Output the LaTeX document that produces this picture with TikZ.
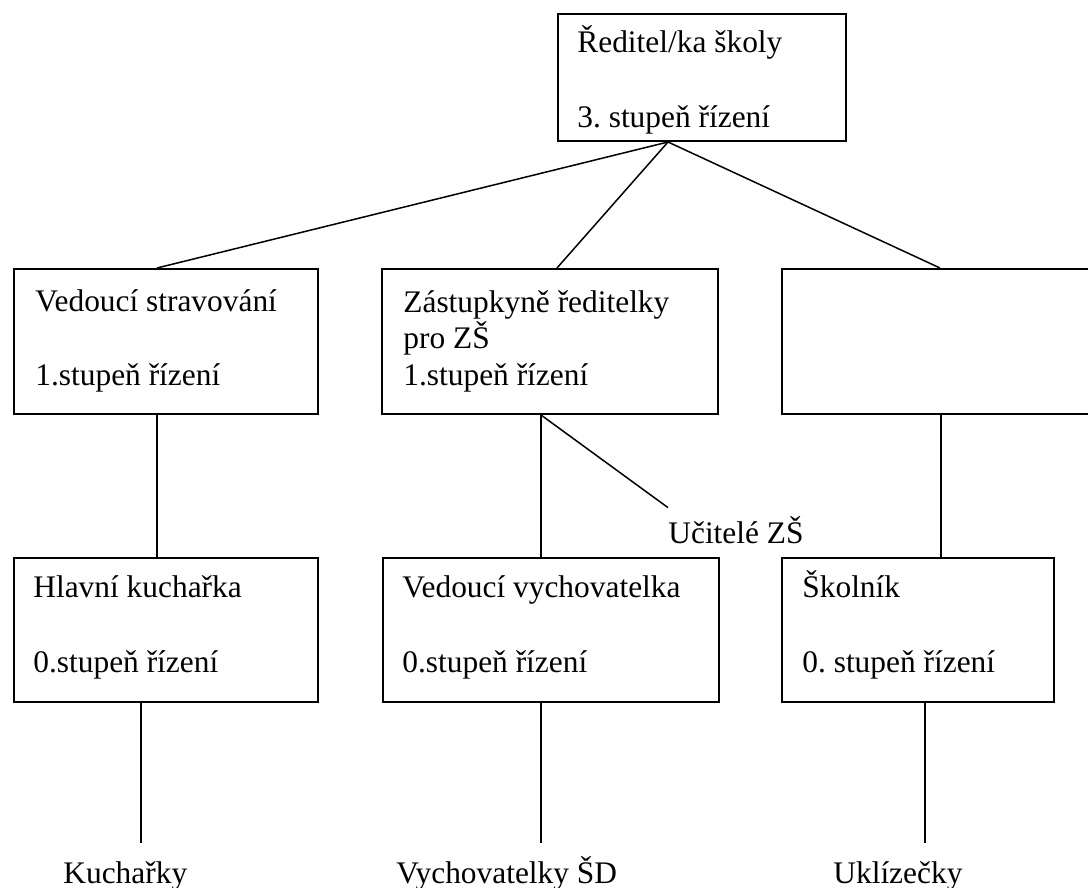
\documentclass[tikz,border=0pt]{standalone}
\usepackage{fontspec}
\setmainfont{Liberation Serif}
\frenchspacing
\tikzset{
  box/.style={draw,line width=1pt,rectangle,anchor=north west,inner sep=0pt},
  txt/.style={anchor=base west,inner sep=0pt,font=\fontsize{15.7}{19}\selectfont},
  conn/.style={line width=0.75pt}
}
\begin{document}
\begin{tikzpicture}[x=0.5pt,y=-0.5pt]
\useasboundingbox (0,0) rectangle (1088,888);
% boxes
\node (reditel) at (557,13) [box,minimum width=144pt,minimum height=63.5pt] {};
\node (vedst) at (13,268) [box,minimum width=152pt,minimum height=72.5pt] {};
\node (zast) at (381,268) [box,minimum width=168pt,minimum height=72.5pt] {};
\node (prazdny) at (781,268) [box,minimum width=156pt,minimum height=72.5pt] {};
\node (kuch) at (13,557) [box,minimum width=152pt,minimum height=72pt] {};
\node (vedvych) at (382,557) [box,minimum width=168pt,minimum height=72pt] {};
\node (skolnik) at (781,557) [box,minimum width=136pt,minimum height=72pt] {};
% texts
\node (reditelA) at (577,53) [txt] {Ředitel/ka školy};
\node (reditelB) at (577,128) [txt] {3. stupeň řízení};
\node (vedstA) at (35,311) [txt] {Vedoucí stravování};
\node (vedstB) at (35,385) [txt] {1.stupeň řízení};
\node (zastA) at (403,312) [txt] {Zástupkyně ředitelky};
\node (zastB) at (403,348) [txt] {pro ZŠ};
\node (zastC) at (403,385) [txt] {1.stupeň řízení};
\node (kuchA) at (33,597) [txt] {Hlavní kuchařka};
\node (kuchB) at (33,672) [txt] {0.stupeň řízení};
\node (vedvychA) at (402,597) [txt] {Vedoucí vychovatelka};
\node (vedvychB) at (402,672) [txt] {0.stupeň řízení};
\node (skolnikA) at (802,597) [txt] {Školník};
\node (skolnikB) at (802,672) [txt] {0. stupeň řízení};
\node (ucitele) at (668,543) [txt] {Učitelé ZŠ};
\node (kuchL) at (63,883) [txt] {Kuchařky};
\node (vychL) at (396,883) [txt] {Vychovatelky ŠD};
\node (uklL) at (833,883) [txt] {Uklízečky};
% free ends
\coordinate (kuchE) at (141,843);
\coordinate (vychE) at (541,843);
\coordinate (uklE) at (925,843);
% lines
\draw[conn] ([xshift=55.5pt]reditel.south west) -- ([xshift=72pt]vedst.north west);
\draw[conn] ([xshift=55.5pt]reditel.south west) -- ([xshift=88pt]zast.north west);
\draw[conn] ([xshift=55.5pt]reditel.south west) -- ([xshift=79.5pt]prazdny.north west);
\draw[conn] ([xshift=72pt]vedst.south west) -- ([xshift=72pt]kuch.north west);
\draw[conn] ([xshift=80pt]zast.south west) -- ([xshift=79.5pt]vedvych.north west);
\draw[conn] ([xshift=80pt]zast.south west) -- ([yshift=4pt]ucitele.north west);
\draw[conn] ([xshift=80pt]prazdny.south west) -- ([xshift=80pt]skolnik.north west);
\draw[conn] ([xshift=64pt]kuch.south west) -- (kuchE);
\draw[conn] ([xshift=79.5pt]vedvych.south west) -- (vychE);
\draw[conn] ([xshift=72pt]skolnik.south west) -- (uklE);
\end{tikzpicture}
\end{document}
